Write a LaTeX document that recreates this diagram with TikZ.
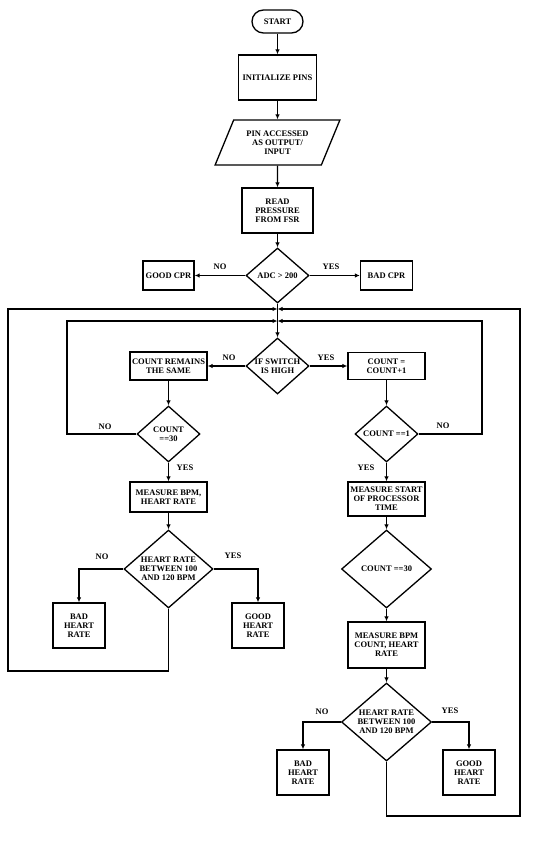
\documentclass[tikz,border=0pt]{standalone}
\usepackage{fontspec}
\setmainfont{Liberation Serif}
\usetikzlibrary{arrows.meta}
\usetikzlibrary{shapes.geometric}
\tikzset{arr/.style = {-{Latex[length = 5pt, width = 4.5pt]}}}
\tikzset{term/.style = {draw, rounded corners = 11.5pt, minimum width = 51pt,
                        minimum height = 23pt, inner sep = 0}}
\tikzset{proc/.style 2 args = {draw, minimum width = #1pt, minimum height = #2pt,
                               inner sep = 0, align = center}}
\tikzset{io/.style = {draw, trapezium, trapezium left angle = 61, trapezium right angle = 119,
                      trapezium stretches, minimum width = 125pt, minimum height = 45pt,
                      inner sep = 0, align = center}}
\tikzset{dec/.style 2 args = {draw, diamond, minimum width = #1pt, minimum height = #2pt,
                              inner sep = 0}}
\tikzset{lbl/.style = {inner sep = 0}}
\tikzset{every label/.style = {align = center, inner sep = 0}}

\begin{document}
\begin{tikzpicture}[x = 1pt, y = -1pt, line width = 1.3pt,
                    font = \fontsize{8.5}{9}\selectfont\bfseries]
    \useasboundingbox (0, 0) rectangle (543, 858);
    \node [term] (start) at (277.5, 21.5) {START};
    \node [proc = {78}{45}] (init) at (277.5, 77.5) {INITIALIZE PINS};
    \node [io] (pins) at (277.5, 142.5) {PIN ACCESSED\\AS OUTPUT/\\INPUT};
    \node [proc = {71}{45}] (read) at (277.5, 210.5) {READ\\PRESSURE\\FROM FSR};
    \node [dec = {63}{55}, label = {center:ADC > 200}] (adc) at (277.5, 275.5) {};
    \node [proc = {51}{29}] (goodcpr) at (168.5, 275.5) {GOOD CPR};
    \node [proc = {52}{29}] (badcpr) at (386.5, 275.5) {BAD CPR};
    \coordinate (outer) at (277.5, 309);
    \coordinate (inner) at (277.5, 321);
    \node [dec = {63}{56}, label = {center:IF SWITCH\\IS HIGH}] (switch) at (277.5, 366) {};
    \node [proc = {77}{28}] (same) at (168.5, 366) {COUNT REMAINS\\THE SAME};
    \node [proc = {77}{27}] (incr) at (386.5, 366) {COUNT =\\COUNT+1};
    \node [dec = {63}{56}, label = {center:COUNT\\==30}] (thirtyL) at (168.5, 434) {};
    \node [dec = {63}{56}, label = {center:COUNT ==1}] (one) at (386.5, 434) {};
    \node [proc = {77}{30}] (bpmL) at (168.5, 497) {MEASURE BPM,\\HEART RATE};
    \node [proc = {77}{34}] (time) at (386.5, 499) {MEASURE START\\OF PROCESSOR\\TIME};
    \node [dec = {89}{78}, label = {center:HEART RATE\\BETWEEN 100\\AND 120 BPM}] (rateL) at (168.5, 569) {};
    \node [dec = {90}{78}, label = {center:COUNT ==30}] (thirtyR) at (386.5, 569) {};
    \node [proc = {52}{45}] (badL) at (79, 625.5) {BAD\\HEART\\RATE};
    \node [proc = {52}{45}] (goodL) at (258, 625.5) {GOOD\\HEART\\RATE};
    \node [proc = {77}{46}] (bpmR) at (386.5, 645) {MEASURE BPM\\COUNT, HEART\\RATE};
    \node [dec = {90}{78}, label = {center:HEART RATE\\BETWEEN 100\\AND 120 BPM}] (rateR) at (386.5, 722) {};
    \node [proc = {52}{45}] (badR) at (303, 772.5) {BAD\\HEART\\RATE};
    \node [proc = {52}{45}] (goodR) at (469, 772.5) {GOOD\\HEART\\RATE};
    \coordinate (cornerL) at (8, 671);
    \coordinate (cornerR) at (520, 816);
    \coordinate (innerL) at (67, 321);
    \coordinate (innerR) at (482, 321);
    \node [lbl] (noadc) at (220, 267) {NO};
    \node [lbl] (yesadc) at (331, 267) {YES};
    \node [lbl] (nosw) at (229, 358) {NO};
    \node [lbl] (yessw) at (326, 358) {YES};
    \node [lbl] (nothirty) at (105, 427) {NO};
    \node [lbl] (noone) at (443, 426) {NO};
    \node [lbl] (yesthirty) at (185, 468) {YES};
    \node [lbl] (yesone) at (366, 468) {YES};
    \node [lbl] (norateL) at (102, 557) {NO};
    \node [lbl] (yesrateL) at (233, 556) {YES};
    \node [lbl] (norateR) at (322, 712) {NO};
    \node [lbl] (yesrateR) at (450, 711) {YES};
    \draw [arr] (start) -- (init);
    \draw [arr] (init) -- (pins);
    \draw [arr] (pins) -- (read);
    \draw [arr] (read) -- (adc);
    \draw [arr] (adc.west) -- (goodcpr.east);
    \draw [arr] (adc.east) -- (badcpr.west);
    \draw [arr] (adc.south) -- (switch.north);
    \draw [arr] (switch.west) -- (same.east);
    \draw [arr] (switch.east) -- (incr.west);
    \draw [arr] (same) -- (thirtyL);
    \draw [arr] (incr) -- (one);
    \draw [arr] (thirtyL) -- (bpmL);
    \draw [arr] (one) -- (time);
    \draw [arr] (thirtyL.west) -| (innerL) -- (inner);
    \draw [arr] (one.east) -| (innerR) -- (inner);
    \draw [arr] (bpmL) -- (rateL);
    \draw [arr] (time) -- (thirtyR);
    \draw [arr] (rateL.west) -| (badL.north);
    \draw [arr] (rateL.east) -| (goodL.north);
    \draw [arr] (rateL.south) |- (cornerL) |- (outer);
    \draw [arr] (thirtyR) -- (bpmR);
    \draw [arr] (bpmR) -- (rateR);
    \draw [arr] (rateR.west) -| (badR.north);
    \draw [arr] (rateR.east) -| (goodR.north);
    \draw [arr] (rateR.south) |- (cornerR) |- (outer);
\end{tikzpicture}
\end{document}
